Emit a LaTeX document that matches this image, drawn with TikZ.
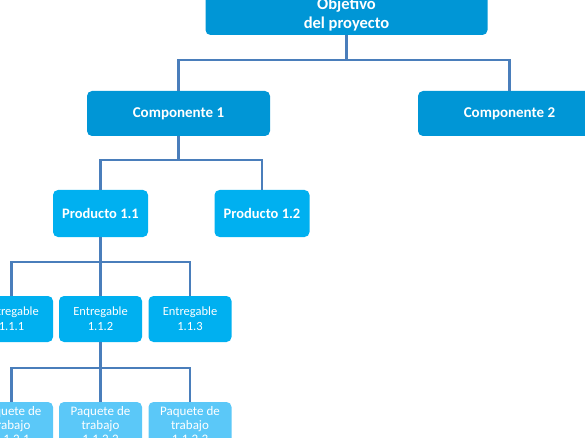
\documentclass[tikz,border=0pt]{standalone}
\usepackage{fontspec}
\setmainfont{Carlito}
\definecolor{lvlA}{HTML}{0096D6}
\definecolor{lvlB}{HTML}{00B0F0}
\definecolor{lvlC}{HTML}{00B0F0}
\definecolor{lvlD}{HTML}{5BC8F8}
\definecolor{conn}{HTML}{4A7EBB}
\tikzset{
  box/.style={rectangle, rounded corners=5pt, text=white, align=center, inner sep=0pt},
  topbox/.style={box, fill=lvlA, minimum width=282pt, minimum height=41pt, font=\fontsize{16.5}{19}\selectfont\bfseries},
  compbox/.style={box, fill=lvlA, minimum width=183pt, minimum height=45pt, font=\fontsize{15}{17}\selectfont\bfseries},
  prodbox/.style={box, fill=lvlB, minimum width=95pt, minimum height=47pt, font=\fontsize{14.5}{17}\selectfont\bfseries},
  entbox/.style={box, fill=lvlC, minimum width=83pt, minimum height=46pt, font=\fontsize{12.5}{15}\selectfont},
  paqbox/.style={box, fill=lvlD, minimum width=83pt, minimum height=46pt, font=\fontsize{13}{14}\selectfont},
  link/.style={draw=conn, line width=2.8pt}
}
\begin{document}
\begin{tikzpicture}[x=1pt,y=-1pt]
\useasboundingbox (0,0) rectangle (585,438);
\clip (0,0) rectangle (585,438);
\node[topbox] (obj) at (346.5,14.5) {Objetivo\\del proyecto};
\node[compbox] (c1) at (178.5,113.5) {Componente 1};
\node[compbox] (c2) at (509.5,113.5) {Componente 2};
\node[prodbox] (p11) at (100.5,213.5) {Producto 1.1};
\node[prodbox] (p12) at (262,213.5) {Producto 1.2};
\node[entbox] (e111) at (11.5,319) {Entregable\\1.1.1};
\node[entbox] (e112) at (100.5,319) {Entregable\\1.1.2};
\node[entbox] (e113) at (190,319) {Entregable\\1.1.3};
\node[paqbox] (w1) at (11.5,425) {Paquete de\\trabajo\\1.1.2.1};
\node[paqbox] (w2) at (100.5,425) {Paquete de\\trabajo\\1.1.2.2};
\node[paqbox] (w3) at (190,425) {Paquete de\\trabajo\\1.1.2.3};
\coordinate (j0) at (346.5,60);
\coordinate (j1) at (178.5,160);
\coordinate (j2) at (100.5,262);
\coordinate (j3) at (100.5,368);
\draw[link] (obj.south) -- (j0);
\draw[link] (j0) -| (c1.north);
\draw[link] (j0) -| (c2.north);
\draw[link] (c1.south) -- (j1);
\draw[link] (j1) -| (p11.north);
\draw[link] (j1) -| (p12.north);
\draw[link] (p11.south) -- (j2);
\draw[link] (j2) -| (e111.north);
\draw[link] (j2) -| (e113.north);
\draw[link] (j2) -- (e112.north);
\draw[link] (e112.south) -- (j3);
\draw[link] (j3) -| (w1.north);
\draw[link] (j3) -| (w3.north);
\draw[link] (j3) -- (w2.north);
\end{tikzpicture}
\end{document}
